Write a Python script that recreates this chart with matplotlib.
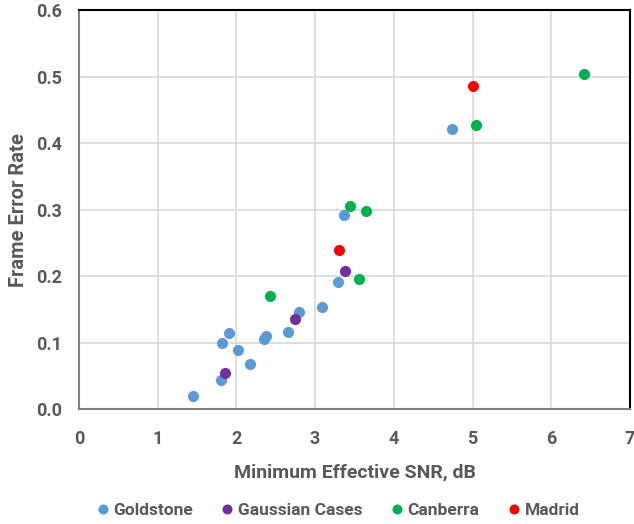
import matplotlib.pyplot as plt

# Frame error rate vs minimum effective SNR for each station
goldstone_snr = [1.45, 1.81, 1.82, 1.90, 2.02, 2.17, 2.35, 2.37, 2.65, 2.80, 3.09, 3.29, 3.37, 4.74]
goldstone_fer = [0.020, 0.044, 0.099, 0.115, 0.089, 0.068, 0.105, 0.110, 0.116, 0.146, 0.154, 0.191, 0.292, 0.422]

gaussian_snr = [1.85, 2.75, 3.38]
gaussian_fer = [0.054, 0.136, 0.208]

canberra_snr = [2.43, 3.44, 3.65, 3.56, 5.04, 6.41]
canberra_fer = [0.170, 0.306, 0.298, 0.196, 0.427, 0.505]

madrid_snr = [3.30, 5.00]
madrid_fer = [0.240, 0.487]

x_ticks = [0, 1, 2, 3, 4, 5, 6, 7]
y_ticks = [0.0, 0.1, 0.2, 0.3, 0.4, 0.5, 0.6]

text_color = "#595959"
plt.rcParams['font.family'] = ['Roboto', 'DejaVu Sans']
plt.rcParams['font.weight'] = 'bold'

fig = plt.figure(figsize=(6.34, 5.24), dpi=100)
ax = fig.add_axes([0.1246, 0.2195, 0.869, 0.7605])

series = [
    (goldstone_snr, goldstone_fer, "#5B9BD5", "Goldstone"),
    (gaussian_snr, gaussian_fer, "#7030A0", "Gaussian Cases"),
    (canberra_snr, canberra_fer, "#00B050", "Canberra"),
    (madrid_snr, madrid_fer, "#FF0000", "Madrid"),
]
for xs, ys, color, name in series:
    ax.plot(xs, ys, linestyle="none", marker="o", markersize=8,
            color=color, markeredgewidth=0, label=name, zorder=3)

ax.set_xlim(0, 7)
ax.set_ylim(0, 0.6)
ax.set_xticks(x_ticks)
ax.set_yticks(y_ticks)
ax.set_xticklabels([str(t) for t in x_ticks], fontweight="bold")
ax.set_yticklabels([f"{t:.1f}" for t in y_ticks], fontweight="bold")
ax.tick_params(length=0, labelsize=13, labelcolor=text_color, pad=12)
ax.tick_params(axis="x", pad=15)

ax.grid(True, color="#D9D9D9", linewidth=1.2)
ax.set_axisbelow(True)

for side in ["top", "right"]:
    ax.spines[side].set_color("black")
    ax.spines[side].set_linewidth(1.5)
for side in ["left", "bottom"]:
    ax.spines[side].set_color("#808080")
    ax.spines[side].set_linewidth(1.5)

ax.set_xlabel("Minimum Effective SNR, dB", fontsize=14, color=text_color,
              fontweight="bold", labelpad=11)
ax.set_ylabel("Frame Error Rate", fontsize=14.5, color=text_color,
              fontweight="bold", labelpad=6)

fig.legend(loc="center", bbox_to_anchor=(0.531, 0.025), ncol=4, frameon=False,
           labelcolor=text_color, handletextpad=0.1,
           columnspacing=1.5, markerscale=0.9, handlelength=1.0,
           prop={"weight": "bold", "size": 12.5})

plt.savefig("out.png", dpi=100)
